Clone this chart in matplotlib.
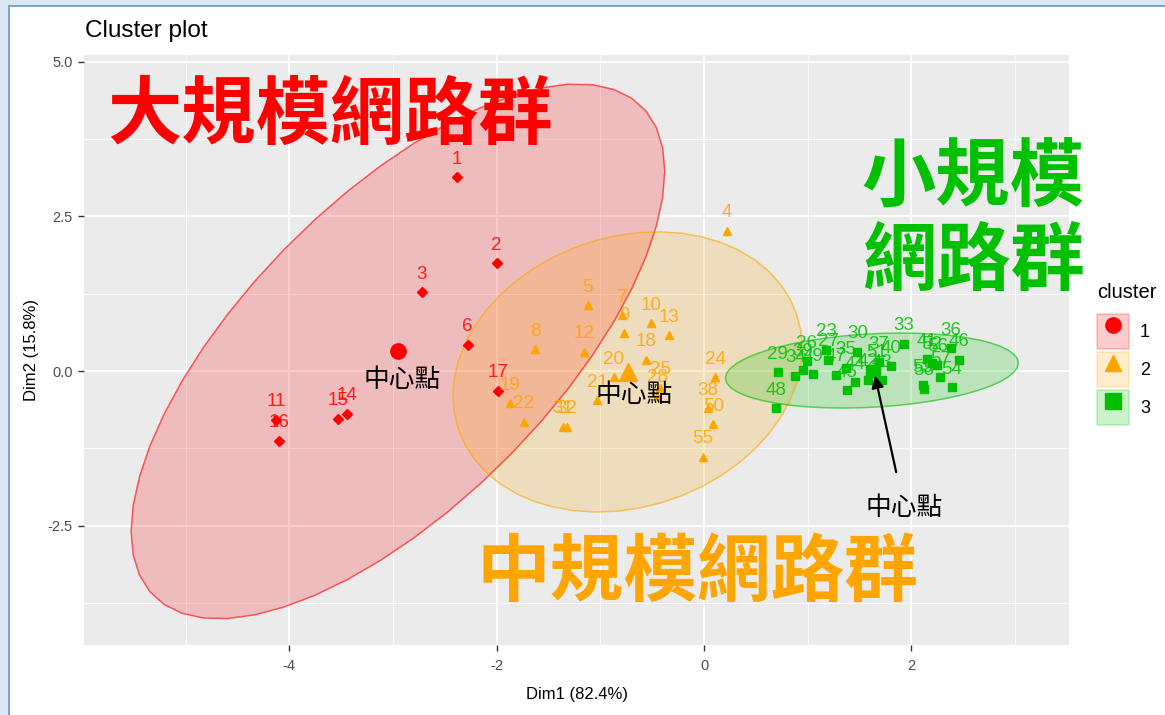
import numpy as np
import matplotlib
matplotlib.use('Agg')
import matplotlib.pyplot as plt
import matplotlib.ticker as ticker
from matplotlib.patches import Polygon, Patch, Rectangle
from matplotlib.lines import Line2D
from matplotlib.legend_handler import HandlerTuple

# ── Data ─────────────────────────────────────────────────────────────────────
red_ids = [1, 2, 3, 6, 11, 14, 15, 16, 17]
red_x = [-2.38, -2.00, -2.72, -2.28, -4.13, -3.44, -3.53, -4.10, -1.99]
red_y = [3.13, 1.74, 1.27, 0.42, -0.79, -0.69, -0.77, -1.13, -0.32]

orange_ids = [4, 5, 7, 8, 9, 10, 12, 13, 18, 19, 20, 21, 22, 24, 25, 28, 31, 32, 38, 50, 55]
orange_x = [0.22, -1.12, -0.79, -1.63, -0.77, -0.51, -1.16, -0.34, -0.56, -1.87, -0.87,
            -1.03, -1.74, 0.11, -0.42, -0.45, -1.36, -1.32, 0.04, 0.09, -0.01]
orange_y = [2.27, 1.06, 0.90, 0.35, 0.61, 0.77, 0.31, 0.58, 0.18, -0.52, -0.10,
            -0.47, -0.82, -0.10, -0.27, -0.40, -0.90, -0.90, -0.60, -0.86, -1.39]

green_ids = [23, 26, 27, 29, 30, 33, 34, 35, 36, 37, 39, 40, 41, 42, 43, 44, 45, 46, 47,
             48, 49, 51, 52, 53, 54, 56, 57, 58]
green_x = [1.18, 0.99, 1.20, 0.71, 1.48, 1.93, 0.88, 1.37, 2.38, 1.69, 0.95, 1.80, 2.15,
           1.58, 1.72, 1.46, 1.38, 2.46, 1.27, 0.69, 1.05, 1.66, 2.20, 2.11, 2.39, 2.25,
           2.28, 2.12]
green_y = [0.34, 0.16, 0.18, -0.02, 0.31, 0.44, -0.08, 0.05, 0.37, 0.14, 0.02, 0.08, 0.19,
           -0.14, -0.15, -0.18, -0.31, 0.18, -0.06, -0.60, -0.05, 0.00, 0.13, -0.23, -0.26,
           0.10, -0.10, -0.29]

cluster_names = ['1', '2', '3']
group_titles = ['大規模網路群', '中規模網路群', '小規模\n網路群']
center_label = '中心點'

RED = '#FF0000'
ORANGE = '#FFA500'
GREEN = '#00C000'

CJK = ['Noto Sans CJK TC', 'DejaVu Sans']
plt.rcParams['font.family'] = ['Liberation Sans', 'DejaVu Sans']
plt.rcParams['axes.unicode_minus'] = False


def norm_ellipse(x, y, level=0.95, segments=51):
    """Same as ggplot2 stat_ellipse(type='norm')."""
    pts = np.column_stack([x, y])
    n = len(pts)
    center = pts.mean(axis=0)
    chol = np.linalg.cholesky(np.cov(pts, rowvar=False)).T
    dfd = n - 1
    qf = dfd / 2 * ((1 - level) ** (-2 / dfd) - 1)   # F(2, dfd) quantile
    radius = np.sqrt(2 * qf)
    ang = np.linspace(0, 2 * np.pi, segments)
    circle = np.column_stack([np.cos(ang), np.sin(ang)])
    return center + radius * circle @ chol


# ── Figure ───────────────────────────────────────────────────────────────────
fig = plt.figure(figsize=(11.65, 7.15), dpi=100, facecolor='#dbe7f5')
fig.patches.append(Rectangle((9 / 1165, -0.1), 1.2, 1.1 - 6 / 715, transform=fig.transFigure,
                             facecolor='white', edgecolor='#6a94c8', lw=1.2, zorder=-10))

ax = fig.add_axes([84 / 1165, 70 / 715, 985 / 1165, 590 / 715])
ax.set_facecolor('#EBEBEB')
for s in ax.spines.values():
    s.set_visible(False)

ax.set_xlim(-5.98, 3.52)
ax.set_ylim(-4.43, 5.11)
ax.xaxis.set_major_locator(ticker.FixedLocator([-4, -2, 0, 2]))
ax.xaxis.set_minor_locator(ticker.FixedLocator([-5, -3, -1, 1, 3]))
ax.yaxis.set_major_locator(ticker.FixedLocator([-2.5, 0, 2.5, 5.0]))
ax.yaxis.set_minor_locator(ticker.FixedLocator([-3.75, -1.25, 1.25, 3.75]))
ax.yaxis.set_major_formatter(ticker.FuncFormatter(lambda v, _: f'{v:.1f}'))
ax.grid(which='major', color='white', lw=1.3, zorder=0)
ax.grid(which='minor', color='white', lw=0.6, zorder=0)
ax.set_axisbelow(True)
ax.tick_params(which='major', length=4, width=1, color='#333333',
               labelsize=10.5, labelcolor='#4D4D4D', pad=4)
ax.tick_params(axis='x', which='major', pad=6)
ax.tick_params(which='minor', length=0)

ax.set_xlabel('Dim1 (82.4%)', fontsize=12, labelpad=10)
ax.set_ylabel('Dim2 (15.8%)', fontsize=12, labelpad=6)
fig.text(85 / 1165, 1 - 31 / 715, 'Cluster plot', fontsize=17.5, ha='left', va='center')

groups = [
    (red_ids, red_x, red_y, RED, 'D', 5, 'o', 11),
    (orange_ids, orange_x, orange_y, ORANGE, '^', 6, '^', 13),
    (green_ids, green_x, green_y, GREEN, 's', 5.5, 's', 9),
]

centers = []
for ids, xs, ys, col, mk, ms, cmk, cms in groups:
    ell = norm_ellipse(xs, ys)
    ax.add_patch(Polygon(ell, closed=True, facecolor=col, alpha=0.2, edgecolor='none', zorder=1))
    ax.add_patch(Polygon(ell, closed=True, facecolor='none', edgecolor=col, alpha=0.6,
                         lw=1.1, zorder=2))
    ax.plot(xs, ys, ls='none', marker=mk, ms=ms, color=col, mec=col, zorder=3)
    for i, x, y in zip(ids, xs, ys):
        ax.annotate(str(i), (x, y), xytext=(0, 13), textcoords='offset points',
                    ha='center', va='center', fontsize=13.5, color=col, alpha=0.85, zorder=4)
    cx, cy = np.mean(xs), np.mean(ys)
    centers.append((cx, cy))
    ax.plot([cx], [cy], ls='none', marker=cmk, ms=cms, color=col, zorder=3)

# centre labels
ax.text(-2.91, -0.14, center_label, fontsize=18.5, family=CJK, ha='center', va='center', zorder=5)
ax.text(-0.67, -0.38, center_label, fontsize=18.5, family=CJK, ha='center', va='center', zorder=5)
ax.annotate(center_label, xy=(centers[2][0] + 0.03, centers[2][1] - 0.08),
            xytext=(1.93, -2.22), fontsize=18.5, family=CJK, ha='center', va='center',
            arrowprops=dict(arrowstyle='-|>', color='black', lw=1.6, mutation_scale=18,
                            shrinkA=15, shrinkB=0), zorder=5)

# big group titles
ax.text(-5.76, 4.13, group_titles[0], fontsize=53.5, fontweight='bold', family=CJK,
        color=RED, ha='left', va='center', zorder=6)
ax.text(-2.19, -3.27, group_titles[1], fontsize=53, fontweight='bold', family=CJK,
        color=ORANGE, ha='left', va='center', zorder=6)
ax.text(1.52, 2.44, group_titles[2], fontsize=53.5, fontweight='bold', family=CJK,
        color=GREEN, ha='left', va='center', linespacing=1.14, zorder=6)

# legend
fig.text(1097 / 1165, 1 - 293 / 715, 'cluster', fontsize=14.5, ha='left', va='center')
handles = []
for (_, _, _, col, _, _, cmk, _) in groups:
    box = Patch(facecolor=col, alpha=0.2, edgecolor=col, lw=1.2)
    mark = Line2D([], [], ls='none', marker=cmk, ms=11, color=col)
    handles.append((box, mark))
leg = fig.legend(handles, cluster_names, loc='upper left',
                 bbox_to_anchor=(1097 / 1165, 1 - 314 / 715), frameon=False,
                 handler_map={tuple: HandlerTuple(ndivide=1)},
                 fontsize=13, handlelength=1.78, handleheight=2.6,
                 labelspacing=0.17, handletextpad=0.6, borderpad=0, borderaxespad=0)

fig.savefig('out.png', dpi=100, facecolor=fig.get_facecolor())
